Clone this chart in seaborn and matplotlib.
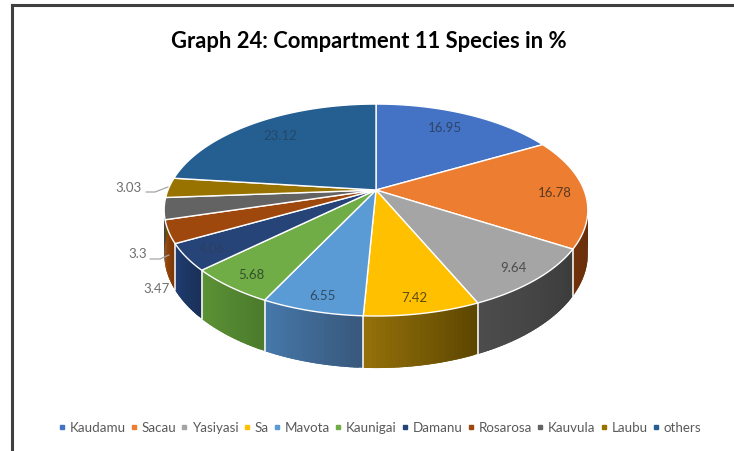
import numpy as np
import matplotlib
matplotlib.use("Agg")
import matplotlib.pyplot as plt
import seaborn as sns

species = ["Kaudamu", "Sacau", "Yasiyasi", "Sa", "Mavota", "Kaunigai", "Damanu",
           "Rosarosa", "Kauvula", "Laubu", "others"]
percent = [16.95, 16.78, 9.64, 7.42, 6.55, 5.68, 4.06, 3.47, 3.3, 3.03, 23.12]
shown = ["16.95", "16.78", "9.64", "7.42", "6.55", "5.68", "4.06", "3.47", "3.3", "3.03", "23.12"]
top_colors = ["#4472C4", "#ED7D31", "#A5A5A5", "#FFC000", "#5B9BD5", "#70AD47",
              "#264478", "#9E480E", "#636363", "#997300", "#255E91"]
wall_left = ["#2a4a80", "#70320c", "#4c4c4c", "#94700a", "#4678aa", "#5c9236",
             "#1f3e72", "#a04c0a", "#444444", "#6b5000", "#1a4060"]
wall_right = ["#2a4a80", "#5c2808", "#3c3c3c", "#5c4600", "#38587c", "#4c7c2c",
              "#1a3058", "#7a3808", "#444444", "#6b5000", "#1a4060"]

# label spots in pixels of the picture
label_xy = [(445, 128), (555, 193), (513, 268), (414, 298), (322, 296), (251, 275),
            (212, 249), (157, 289), (138, 254), (129, 188), (280, 136)]
label_col = ["#2f4468", "#5a3a22", "#4d4d4d", "#5c4a10", "#2f4a63", "#33502a",
             "#2c3e62", "#6e6e6e", "#6e6e6e", "#6e6e6e", "#23486a"]

# perspective of the tilted pie, in pixels
cx, cy = 376, 190
a, b, k = 208, 102.2, 0.189
depth = 42.2


def project(t, r=1.0, drop=0.0):
    u, v = r * np.sin(t), r * np.cos(t)
    d = 1 + k * v
    return cx + a * u / d, cy - b * v / d + drop / d


sns.set_theme(style="white")
plt.rcParams["font.family"] = ["Lato", "DejaVu Sans"]

fig = plt.figure(figsize=(7.34, 4.51), dpi=100)
ax = fig.add_axes([12 / 734, 0, 722 / 734, 446 / 451])
ax.set_xlim(12, 734)
ax.set_ylim(451, 5)
ax.set_xticks([])
ax.set_yticks([])
sns.despine(ax=ax, top=False, left=False, right=True, bottom=True)
for side in ["left", "top"]:
    ax.spines[side].set_color("#404040")
    ax.spines[side].set_linewidth(2.2)

edges = np.deg2rad(np.cumsum([0] + percent) / sum(percent) * 360)

# side wall, only the front half can be seen
for i in range(len(percent)):
    t0, t1 = max(edges[i], np.pi / 2 - 0.1), min(edges[i + 1], 3 * np.pi / 2 + 0.1)
    if t1 <= t0:
        continue
    n = max(int((t1 - t0) * 60), 2)
    ts = np.linspace(t0, t1, n + 1)
    # left of the picture is the late end of each slice
    shades = sns.blend_palette([wall_right[i], wall_left[i]], n)
    for j in range(n):
        # each strip runs a little under the next so no seams show
        seg = np.linspace(ts[j], min(ts[j + 1] + 0.02, t1), 3)
        x1, y1 = project(seg)
        x2, y2 = project(seg[::-1], drop=depth)
        ax.fill(np.r_[x1, x2], np.r_[y1, y2], facecolor=shades[j], lw=0, zorder=2)
for t in edges:
    if np.pi / 2 < t < np.deg2rad(245):
        x1, y1 = project(t)
        x2, y2 = project(t, drop=depth)
        ax.plot([x1, x2], [y1, y2], color="white", lw=1.1, zorder=3)

# top of the pie
for i in range(len(percent)):
    ts = np.linspace(edges[i], edges[i + 1], 80)
    x, y = project(ts)
    ax.fill(np.r_[cx, x], np.r_[cy, y], facecolor=top_colors[i], edgecolor="white",
            lw=1.0, joinstyle="round", zorder=4)

for txt, (x, y), col in zip(shown, label_xy, label_col):
    ax.text(x, y, txt, color=col, fontsize=9.5, ha="center", va="center", zorder=6)

# leader lines of the two small slices
for xs, ys in [([146, 155, 168], [192, 192, 187]), ([150, 160, 169], [259, 259, 255])]:
    ax.plot(xs, ys, color="#a6a6a6", lw=0.9, zorder=6)

ax.text(369, 41, "Graph 24: Compartment 11 Species in %", fontsize=15.8, fontweight="bold",
        color="black", ha="center", va="center")

for name, col in zip(species, top_colors):
    ax.plot([], [], ls="", marker="s", ms=3.0, color=col, label=name)
ax.legend(loc="center", bbox_to_anchor=(380, 428), bbox_transform=ax.transData, ncols=11,
          frameon=False, fontsize=9.6, labelcolor="#595959", handlelength=0.45,
          handletextpad=0.35, columnspacing=0.4, borderpad=0, borderaxespad=0)

fig.savefig("out.png", dpi=100)
